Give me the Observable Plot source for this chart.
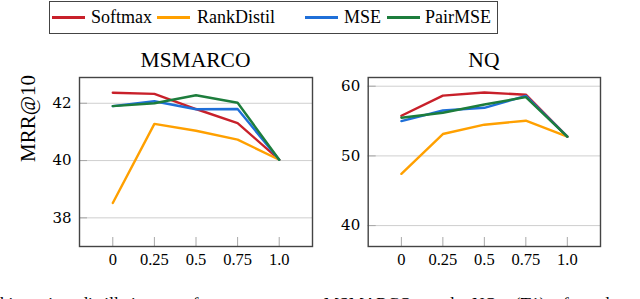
<!DOCTYPE html>
<html>
<head>
<meta charset="utf-8">
<script src="https://cdn.jsdelivr.net/npm/d3@7"></script>
<script src="https://cdn.jsdelivr.net/npm/@observablehq/plot@0.6"></script>
<style>
  html, body { margin: 0; padding: 0; background: #fff; }
  #page { position: relative; width: 640px; height: 299px; overflow: hidden; font-family: "Liberation Serif", serif; color: #000; }
  .abs { position: absolute; white-space: nowrap; }
  #legend { position: absolute; left: 49px; top: 1px; width: 449px; height: 33px; box-sizing: border-box; border: 1.3px solid #444; }
  .sw { position: absolute; height: 2.4px; }
  .lt { position: absolute; font-size: 18px; line-height: 20px; top: 7.4px; }
  .ptitle { position: absolute; font-size: 21.5px; line-height: 24px; top: 48px; text-align: center; }
</style>
</head>
<body>
<div id="page"></div>
<script>
// ---- data ----
const alphas = [0, 0.25, 0.5, 0.75, 1.0];
const xTickLabels = ["0", "0.25", "0.5", "0.75", "1.0"];
const seriesNames = ["Softmax", "RankDistil", "MSE", "PairMSE"];
const seriesColors = ["#c8202a", "#ffa000", "#1f6fd8", "#1d7d3c"];

const msmarcoSoftmax    = [42.37, 42.33, 41.80, 41.31, 40.03];
const msmarcoRankDistil = [38.52, 41.28, 41.04, 40.73, 40.03];
const msmarcoMSE        = [41.90, 42.07, 41.79, 41.80, 40.03];
const msmarcoPairMSE    = [41.90, 42.00, 42.28, 42.02, 40.03];

const nqSoftmax    = [55.76, 58.65, 59.10, 58.78, 52.76];
const nqRankDistil = [47.43, 53.14, 54.48, 55.05, 52.76];
const nqMSE        = [55.00, 56.52, 56.90, 58.60, 52.76];
const nqPairMSE    = [55.48, 56.19, 57.38, 58.43, 52.76];

const msmarcoTicks = [38, 40, 42];
const nqTicks = [40, 50, 60];
const panelTitles = ["MSMARCO", "NQ"];
const yLabel = "MRR@10";
const captionText = "hing in distillation performance over MSMARCO and NQ (T1) for d";

// ---- helpers ----
function toRows(list) {
  return list.flatMap((vals, s) => vals.map((v, i) => ({series: seriesNames[s], alpha: alphas[i], value: v})));
}

const page = document.getElementById("page");
const H = 205, MT = 7, MB = 29;

function panel({rows, yDomain, yTicks, marginLeft, marginRight, showLabel}) {
  const W = 320;
  const innerH = H - MT - MB;
  const innerW = W - marginLeft - marginRight;
  const marks = [
    Plot.gridY(yTicks, {stroke: "#cfcfcf", strokeOpacity: 1, strokeWidth: 1}),
    Plot.tickY(yTicks, {y: d => d, insetRight: innerW - 8, stroke: "#a8a8a8", strokeWidth: 1}),
    Plot.tickX(alphas, {x: d => d, insetTop: innerH - 9, stroke: "#a8a8a8", strokeWidth: 1}),
    Plot.line(rows, {x: "alpha", y: "value", z: "series", stroke: "series", strokeWidth: 2.4}),
    Plot.frame({stroke: "#444", strokeWidth: 1.4}),
    Plot.axisX(alphas, {anchor: "bottom", tickSize: 0, tickPadding: 7, label: null,
      tickFormat: d => xTickLabels[alphas.indexOf(d)], fontSize: 16.5, fontFamily: "Liberation Serif"}),
    Plot.axisY(yTicks, {anchor: "left", tickSize: 0, tickPadding: 8, label: null,
      fontSize: 15, fontFamily: "DejaVu Serif"})
  ];
  if (showLabel) {
    marks.push(Plot.text([yLabel], {frameAnchor: "left", rotate: -90, dx: -51, text: d => d,
      fontSize: 21, fontFamily: "Liberation Serif", fill: "black"}));
  }
  return Plot.plot({
    width: W, height: H,
    marginTop: MT, marginBottom: MB, marginLeft, marginRight,
    x: {domain: [-0.2, 1.2]},
    y: {domain: yDomain},
    color: {domain: seriesNames, range: seriesColors},
    style: {fontFamily: "Liberation Serif", color: "black", background: "transparent", overflow: "visible"},
    marks
  });
}

const left = panel({rows: toRows([msmarcoSoftmax, msmarcoRankDistil, msmarcoMSE, msmarcoPairMSE]),
  yDomain: [37.0, 42.9], yTicks: msmarcoTicks, marginLeft: 79, marginRight: 8, showLabel: true});
left.style.position = "absolute"; left.style.left = "0px"; left.style.top = "70px";
page.appendChild(left);

const right = panel({rows: toRows([nqSoftmax, nqRankDistil, nqMSE, nqPairMSE]),
  yDomain: [37.0, 61.25], yTicks: nqTicks, marginLeft: 47.7, marginRight: 40, showLabel: false});
right.style.position = "absolute"; right.style.left = "320px"; right.style.top = "70px";
page.appendChild(right);

// panel titles
const titleCenters = [195.5, 483.9];
panelTitles.forEach((t, i) => {
  const d = document.createElement("div");
  d.className = "ptitle";
  d.style.left = (titleCenters[i] - 100) + "px";
  d.style.width = "200px";
  d.textContent = t;
  page.appendChild(d);
});

// legend
const legend = document.createElement("div");
legend.id = "legend";
page.appendChild(legend);
const swatchLeft = [52, 157, 305, 387];
const textLeft = [91, 197, 344, 425];
seriesNames.forEach((name, i) => {
  const s = document.createElement("div");
  s.className = "sw abs";
  s.style.left = swatchLeft[i] + "px";
  s.style.width = "33px";
  s.style.top = "16.2px";
  s.style.background = seriesColors[i];
  page.appendChild(s);
  const t = document.createElement("div");
  t.className = "lt abs";
  t.style.left = textLeft[i] + "px";
  t.textContent = name;
  page.appendChild(t);
});

// partially visible caption below the figure (cut off by the bottom edge, as in the reference)
const cap = document.createElement("div");
cap.className = "abs";
cap.style.left = "0px";
cap.style.top = "293.5px";
cap.style.fontSize = "17.2px";
cap.style.lineHeight = "20px";
cap.style.wordSpacing = "13.5px";
cap.textContent = captionText;
page.appendChild(cap);
</script>
</body>
</html>
